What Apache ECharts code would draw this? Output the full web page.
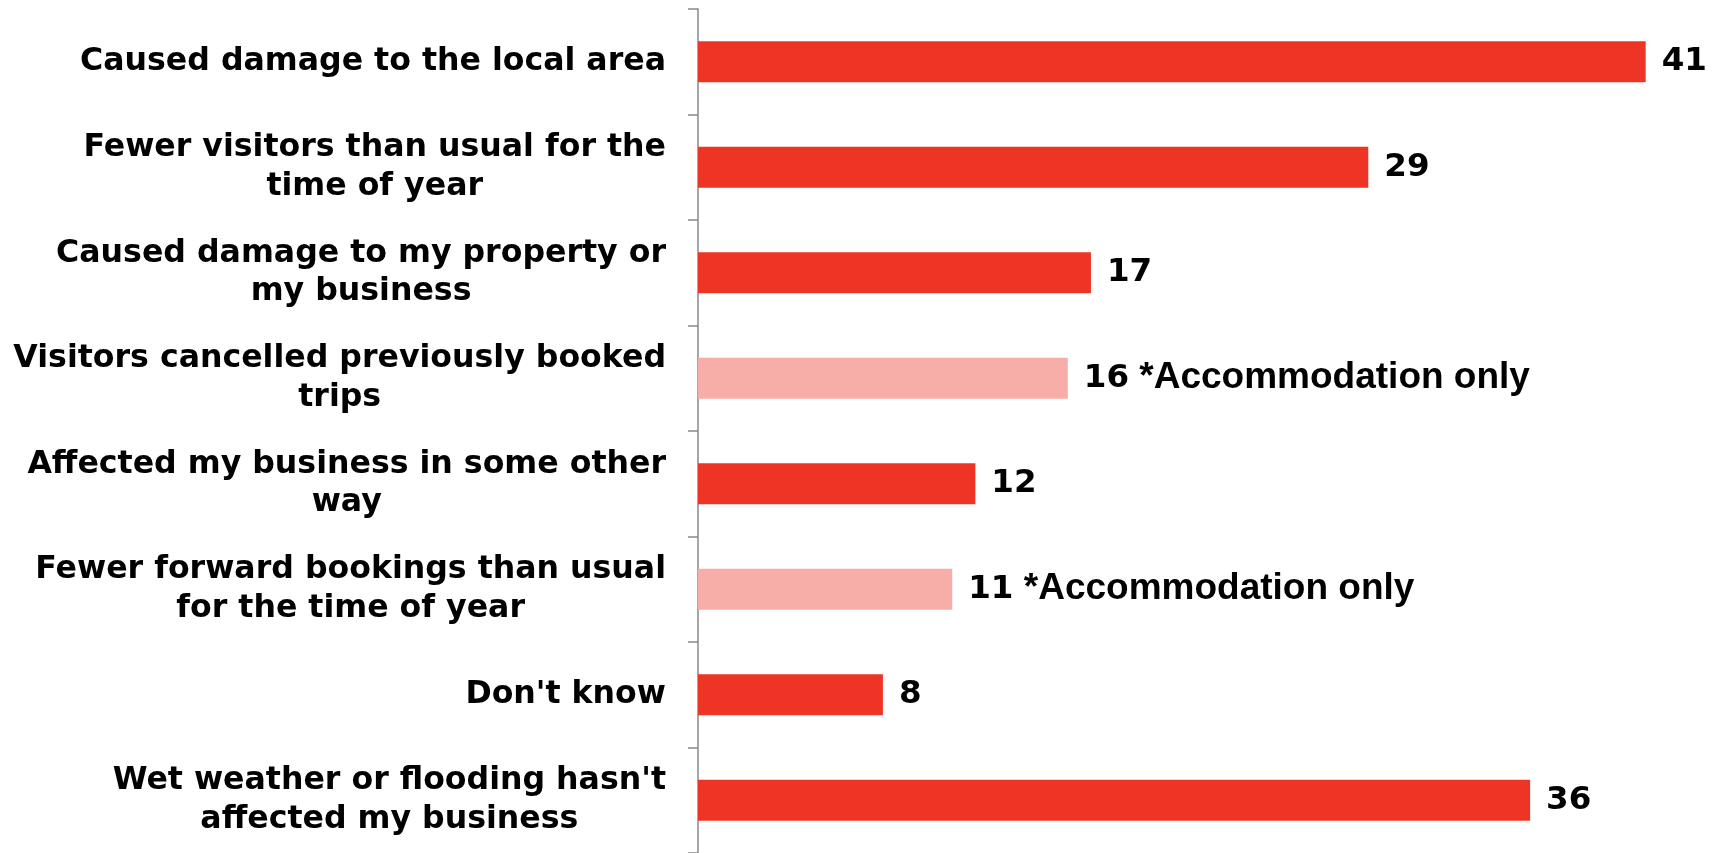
<!DOCTYPE html>
<html>
<head>
<meta charset="utf-8">
<script src="https://cdn.jsdelivr.net/npm/echarts@6/dist/echarts.min.js"></script>
<style>
html,body{margin:0;padding:0;background:#fff;}
#chart{width:1718px;height:853px;}
</style>
</head>
<body>
<div id="chart"></div>
<script>
var categories = [
  "Caused damage to the local area",
  "Fewer visitors than usual for the\ntime of year",
  "Caused damage to my property or\nmy business",
  "Visitors cancelled previously booked\ntrips",
  "Affected my business in some other\nway",
  "Fewer forward bookings than usual\nfor the time of year",
  "Don't know",
  "Wet weather or flooding hasn't\naffected my business"
];
var values = [41, 29, 17, 16, 12, 11, 8, 36];
var notes = ["", "", "", "*Accommodation only", "", "*Accommodation only", "", ""];

var RED = '#EE3424';
var PINK = '#F7AEA8';

var chart = echarts.init(document.getElementById('chart'));
var data = values.map(function (v, i) {
  return { value: v, note: notes[i], itemStyle: { color: notes[i] ? PINK : RED } };
});

chart.setOption({
  animation: false,
  grid: { left: 698, top: 9, width: 1017, bottom: 0, containLabel: false },
  xAxis: { type: 'value', min: 0, max: 44, show: false },
  yAxis: {
    type: 'category',
    data: categories,
    inverse: true,
    axisLine: { show: true, lineStyle: { color: '#888888', width: 1.5 } },
    axisTick: { show: true, length: 10, lineStyle: { color: '#888888', width: 1.5 } },
    splitLine: { show: false },
    axisLabel: {
      margin: 32,
      formatter: function (v) {
        return v.split('\n').map(function (l) { return '{c|' + l + '}'; }).join('\n');
      },
      rich: {
        c: {
          align: 'center',
          fontFamily: 'DejaVu Sans',
          fontWeight: 'bold',
          fontSize: 31.6,
          lineHeight: 38.5,
          color: '#000'
        }
      }
    }
  },
  series: [{
    type: 'bar',
    data: data,
    barWidth: 41,
    label: {
      show: true,
      position: 'right',
      distance: 16,
      formatter: function (p) {
        var s = '{n|' + p.value + '}';
        if (p.data.note) s += '{a| ' + p.data.note + '}';
        return s;
      },
      rich: {
        n: { fontFamily: 'DejaVu Sans', fontWeight: 'bold', fontSize: 32.5, color: '#000' },
        a: { fontFamily: 'Liberation Sans', fontWeight: 'bold', fontSize: 37, color: '#000' }
      }
    }
  }]
});
</script>
</body>
</html>
